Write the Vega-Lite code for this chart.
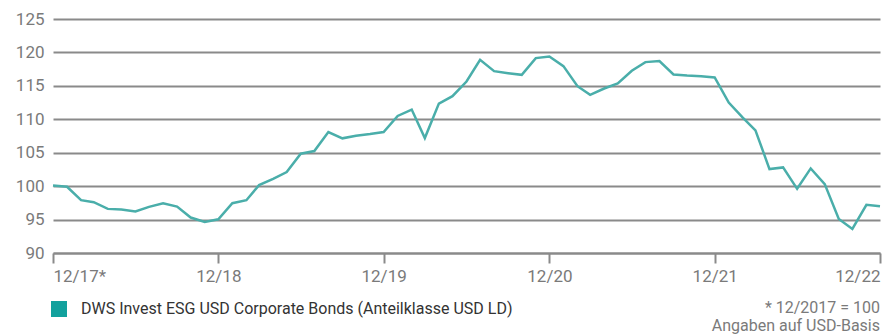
{
  "$schema": "https://vega.github.io/schema/vega-lite/v6.json",
  "autosize": "none",
  "width": 827,
  "height": 234,
  "padding": {"left": 53, "top": 19, "right": 13, "bottom": 83},
  "background": "white",
  "config": {
    "view": {"stroke": null},
    "font": "Roboto"
  },
  "title": {
    "text": "* 12/2017 = 100",
    "subtitle": "Angaben auf USD-Basis",
    "orient": "bottom",
    "anchor": "end",
    "frame": "group",
    "offset": -17,
    "font": "Roboto",
    "fontSize": 16,
    "fontWeight": "normal",
    "color": "#7a7a7a",
    "subtitleFont": "Roboto",
    "subtitleFontSize": 16,
    "subtitleColor": "#7a7a7a",
    "subtitlePadding": 2
  },
  "data": {
    "values": [
      {"date": "2017-12-01", "value": 100.1, "series": "DWS Invest ESG USD Corporate Bonds (Anteilklasse USD LD)"},
      {"date": "2018-01-01", "value": 99.9, "series": "DWS Invest ESG USD Corporate Bonds (Anteilklasse USD LD)"},
      {"date": "2018-02-01", "value": 97.9, "series": "DWS Invest ESG USD Corporate Bonds (Anteilklasse USD LD)"},
      {"date": "2018-03-01", "value": 97.6, "series": "DWS Invest ESG USD Corporate Bonds (Anteilklasse USD LD)"},
      {"date": "2018-04-01", "value": 96.6, "series": "DWS Invest ESG USD Corporate Bonds (Anteilklasse USD LD)"},
      {"date": "2018-05-01", "value": 96.5, "series": "DWS Invest ESG USD Corporate Bonds (Anteilklasse USD LD)"},
      {"date": "2018-06-01", "value": 96.2, "series": "DWS Invest ESG USD Corporate Bonds (Anteilklasse USD LD)"},
      {"date": "2018-07-01", "value": 96.9, "series": "DWS Invest ESG USD Corporate Bonds (Anteilklasse USD LD)"},
      {"date": "2018-08-01", "value": 97.45, "series": "DWS Invest ESG USD Corporate Bonds (Anteilklasse USD LD)"},
      {"date": "2018-09-01", "value": 96.95, "series": "DWS Invest ESG USD Corporate Bonds (Anteilklasse USD LD)"},
      {"date": "2018-10-01", "value": 95.3, "series": "DWS Invest ESG USD Corporate Bonds (Anteilklasse USD LD)"},
      {"date": "2018-11-01", "value": 94.65, "series": "DWS Invest ESG USD Corporate Bonds (Anteilklasse USD LD)"},
      {"date": "2018-12-01", "value": 95.05, "series": "DWS Invest ESG USD Corporate Bonds (Anteilklasse USD LD)"},
      {"date": "2019-01-01", "value": 97.45, "series": "DWS Invest ESG USD Corporate Bonds (Anteilklasse USD LD)"},
      {"date": "2019-02-01", "value": 97.9, "series": "DWS Invest ESG USD Corporate Bonds (Anteilklasse USD LD)"},
      {"date": "2019-03-01", "value": 100.15, "series": "DWS Invest ESG USD Corporate Bonds (Anteilklasse USD LD)"},
      {"date": "2019-04-01", "value": 101.1, "series": "DWS Invest ESG USD Corporate Bonds (Anteilklasse USD LD)"},
      {"date": "2019-05-01", "value": 102.1, "series": "DWS Invest ESG USD Corporate Bonds (Anteilklasse USD LD)"},
      {"date": "2019-06-01", "value": 104.85, "series": "DWS Invest ESG USD Corporate Bonds (Anteilklasse USD LD)"},
      {"date": "2019-07-01", "value": 105.25, "series": "DWS Invest ESG USD Corporate Bonds (Anteilklasse USD LD)"},
      {"date": "2019-08-01", "value": 108.1, "series": "DWS Invest ESG USD Corporate Bonds (Anteilklasse USD LD)"},
      {"date": "2019-09-01", "value": 107.15, "series": "DWS Invest ESG USD Corporate Bonds (Anteilklasse USD LD)"},
      {"date": "2019-10-01", "value": 107.55, "series": "DWS Invest ESG USD Corporate Bonds (Anteilklasse USD LD)"},
      {"date": "2019-11-01", "value": 107.8, "series": "DWS Invest ESG USD Corporate Bonds (Anteilklasse USD LD)"},
      {"date": "2019-12-01", "value": 108.1, "series": "DWS Invest ESG USD Corporate Bonds (Anteilklasse USD LD)"},
      {"date": "2020-01-01", "value": 110.5, "series": "DWS Invest ESG USD Corporate Bonds (Anteilklasse USD LD)"},
      {"date": "2020-02-01", "value": 111.45, "series": "DWS Invest ESG USD Corporate Bonds (Anteilklasse USD LD)"},
      {"date": "2020-03-01", "value": 107.2, "series": "DWS Invest ESG USD Corporate Bonds (Anteilklasse USD LD)"},
      {"date": "2020-04-01", "value": 112.35, "series": "DWS Invest ESG USD Corporate Bonds (Anteilklasse USD LD)"},
      {"date": "2020-05-01", "value": 113.45, "series": "DWS Invest ESG USD Corporate Bonds (Anteilklasse USD LD)"},
      {"date": "2020-06-01", "value": 115.65, "series": "DWS Invest ESG USD Corporate Bonds (Anteilklasse USD LD)"},
      {"date": "2020-07-01", "value": 118.9, "series": "DWS Invest ESG USD Corporate Bonds (Anteilklasse USD LD)"},
      {"date": "2020-08-01", "value": 117.2, "series": "DWS Invest ESG USD Corporate Bonds (Anteilklasse USD LD)"},
      {"date": "2020-09-01", "value": 116.9, "series": "DWS Invest ESG USD Corporate Bonds (Anteilklasse USD LD)"},
      {"date": "2020-10-01", "value": 116.65, "series": "DWS Invest ESG USD Corporate Bonds (Anteilklasse USD LD)"},
      {"date": "2020-11-01", "value": 119.15, "series": "DWS Invest ESG USD Corporate Bonds (Anteilklasse USD LD)"},
      {"date": "2020-12-01", "value": 119.4, "series": "DWS Invest ESG USD Corporate Bonds (Anteilklasse USD LD)"},
      {"date": "2021-01-01", "value": 117.95, "series": "DWS Invest ESG USD Corporate Bonds (Anteilklasse USD LD)"},
      {"date": "2021-02-01", "value": 114.95, "series": "DWS Invest ESG USD Corporate Bonds (Anteilklasse USD LD)"},
      {"date": "2021-03-01", "value": 113.65, "series": "DWS Invest ESG USD Corporate Bonds (Anteilklasse USD LD)"},
      {"date": "2021-04-01", "value": 114.6, "series": "DWS Invest ESG USD Corporate Bonds (Anteilklasse USD LD)"},
      {"date": "2021-05-01", "value": 115.35, "series": "DWS Invest ESG USD Corporate Bonds (Anteilklasse USD LD)"},
      {"date": "2021-06-01", "value": 117.25, "series": "DWS Invest ESG USD Corporate Bonds (Anteilklasse USD LD)"},
      {"date": "2021-07-01", "value": 118.55, "series": "DWS Invest ESG USD Corporate Bonds (Anteilklasse USD LD)"},
      {"date": "2021-08-01", "value": 118.7, "series": "DWS Invest ESG USD Corporate Bonds (Anteilklasse USD LD)"},
      {"date": "2021-09-01", "value": 116.7, "series": "DWS Invest ESG USD Corporate Bonds (Anteilklasse USD LD)"},
      {"date": "2021-10-01", "value": 116.55, "series": "DWS Invest ESG USD Corporate Bonds (Anteilklasse USD LD)"},
      {"date": "2021-11-01", "value": 116.45, "series": "DWS Invest ESG USD Corporate Bonds (Anteilklasse USD LD)"},
      {"date": "2021-12-01", "value": 116.25, "series": "DWS Invest ESG USD Corporate Bonds (Anteilklasse USD LD)"},
      {"date": "2022-01-01", "value": 112.5, "series": "DWS Invest ESG USD Corporate Bonds (Anteilklasse USD LD)"},
      {"date": "2022-02-01", "value": 110.25, "series": "DWS Invest ESG USD Corporate Bonds (Anteilklasse USD LD)"},
      {"date": "2022-03-01", "value": 108.35, "series": "DWS Invest ESG USD Corporate Bonds (Anteilklasse USD LD)"},
      {"date": "2022-04-01", "value": 102.55, "series": "DWS Invest ESG USD Corporate Bonds (Anteilklasse USD LD)"},
      {"date": "2022-05-01", "value": 102.8, "series": "DWS Invest ESG USD Corporate Bonds (Anteilklasse USD LD)"},
      {"date": "2022-06-01", "value": 99.6, "series": "DWS Invest ESG USD Corporate Bonds (Anteilklasse USD LD)"},
      {"date": "2022-07-01", "value": 102.65, "series": "DWS Invest ESG USD Corporate Bonds (Anteilklasse USD LD)"},
      {"date": "2022-08-01", "value": 100.3, "series": "DWS Invest ESG USD Corporate Bonds (Anteilklasse USD LD)"},
      {"date": "2022-09-01", "value": 95.1, "series": "DWS Invest ESG USD Corporate Bonds (Anteilklasse USD LD)"},
      {"date": "2022-10-01", "value": 93.6, "series": "DWS Invest ESG USD Corporate Bonds (Anteilklasse USD LD)"},
      {"date": "2022-11-01", "value": 97.2, "series": "DWS Invest ESG USD Corporate Bonds (Anteilklasse USD LD)"},
      {"date": "2022-12-01", "value": 97.0, "series": "DWS Invest ESG USD Corporate Bonds (Anteilklasse USD LD)"}
    ]
  },
  "mark": {"type": "line", "strokeWidth": 2.5, "strokeJoin": "miter", "clip": false},
  "encoding": {
    "x": {
      "field": "date",
      "type": "temporal",
      "scale": {"type": "utc", "nice": false, "padding": 0},
      "axis": {
        "title": null,
        "values": [
          {"year": 2017, "month": 12, "date": 1, "utc": true},
          {"year": 2018, "month": 12, "date": 1, "utc": true},
          {"year": 2019, "month": 12, "date": 1, "utc": true},
          {"year": 2020, "month": 12, "date": 1, "utc": true},
          {"year": 2021, "month": 12, "date": 1, "utc": true},
          {"year": 2022, "month": 12, "date": 1, "utc": true}
        ],
        "labelExpr": "utcFormat(datum.value, '%m/%y') + (utcyear(datum.value) == 2017 ? '*' : '')",
        "labelFlush": true,
        "labelFont": "Roboto",
        "labelFontSize": 17,
        "labelColor": "#7a7a7a",
        "labelPadding": 5,
        "grid": false,
        "domain": true,
        "domainColor": "#8a8a8a",
        "domainWidth": 2,
        "ticks": true,
        "tickColor": "#8a8a8a",
        "tickWidth": 2,
        "tickSize": 10
      }
    },
    "y": {
      "field": "value",
      "type": "quantitative",
      "scale": {"domain": [90, 125], "nice": false, "zero": false},
      "axis": {
        "title": null,
        "values": [90, 95, 100, 105, 110, 115, 120, 125],
        "labelFont": "Roboto",
        "labelFontSize": 17,
        "labelColor": "#7a7a7a",
        "labelPadding": 9,
        "domain": false,
        "ticks": false,
        "grid": true,
        "gridColor": "#8a8a8a",
        "gridWidth": 2
      }
    },
    "color": {
      "field": "series",
      "type": "nominal",
      "scale": {"range": ["#4aaeaa"]},
      "legend": {
        "title": null,
        "orient": "none",
        "legendX": -2,
        "legendY": 282,
        "padding": 0,
        "symbolType": "square",
        "symbolSize": 256,
        "symbolFillColor": "#12a19d",
        "symbolStrokeWidth": 0,
        "symbolOpacity": 1,
        "labelFont": "Roboto",
        "labelFontSize": 16,
        "labelColor": "#333333",
        "labelOffset": 14,
        "labelLimit": 0
      }
    }
  }
}
